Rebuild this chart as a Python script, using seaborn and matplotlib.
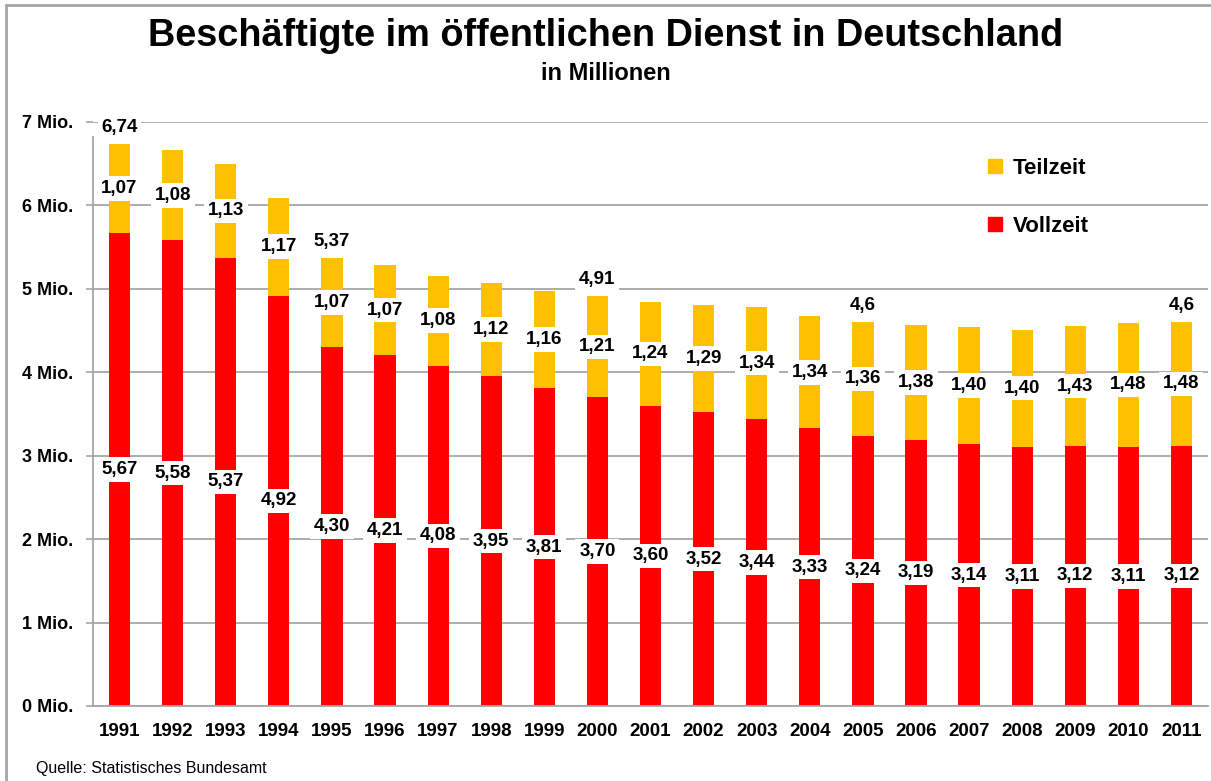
import matplotlib
matplotlib.use("Agg")
import matplotlib.pyplot as plt
import seaborn as sns
import numpy as np
from matplotlib.lines import Line2D

# Daten (Mio. Beschäftigte)
years = [str(y) for y in range(1991, 2012)]
vollzeit = [5.67, 5.58, 5.37, 4.92, 4.30, 4.21, 4.08, 3.95, 3.81, 3.70, 3.60,
            3.52, 3.44, 3.33, 3.24, 3.19, 3.14, 3.11, 3.12, 3.11, 3.12]
teilzeit = [1.07, 1.08, 1.13, 1.17, 1.07, 1.07, 1.08, 1.12, 1.16, 1.21, 1.24,
            1.29, 1.34, 1.34, 1.36, 1.38, 1.40, 1.40, 1.43, 1.48, 1.48]
# Summenbeschriftung nur bei einzelnen Jahren
total_label_years = ["1991", "1995", "2000", "2005", "2011"]
total_label_text = ["6,74", "5,37", "4,91", "4,6", "4,6"]
y_ticks = [0, 1, 2, 3, 4, 5, 6, 7]
y_ticklabels = [f"{t} Mio." for t in y_ticks]

RED = "#FF0000"
YELLOW = "#FFC000"
GRID = "#a6a6a6"

sns.set_style("white")
plt.rcParams["font.family"] = ["Liberation Sans", "DejaVu Sans"]
plt.rcParams["text.color"] = "black"

totals = np.array(vollzeit) + np.array(teilzeit)

fig = plt.figure(figsize=(12.11, 7.81), dpi=100)
ax = fig.add_axes([93 / 1211, 1 - 706 / 781, (1208 - 93) / 1211, (706 - 122) / 781])

# gestapelt: erst Gesamthöhe (gelb), dann Vollzeit (rot) darüber
sns.barplot(x=years, y=totals, color=YELLOW, saturation=1, width=0.4,
            linewidth=0, ax=ax, zorder=2)
sns.barplot(x=years, y=vollzeit, color=RED, saturation=1, width=0.4,
            linewidth=0, ax=ax, zorder=2)

ax.set_ylim(0, 7)
ax.set_xlim(-0.5, len(years) - 0.5)
ax.set_yticks(y_ticks)
ax.set_yticklabels(y_ticklabels, fontsize=13, fontweight="bold")
ax.set_xticks(range(len(years)))
ax.set_xticklabels(years, fontsize=13.5, fontweight="bold")
ax.set_xticks(np.arange(-0.5, len(years)), minor=True)
ax.tick_params(axis="x", which="major", length=0, pad=12, labelcolor="black")
ax.tick_params(axis="x", which="minor", length=5, width=1.2, color=GRID, direction="out")
ax.tick_params(axis="y", length=5, width=1.2, color=GRID, direction="out", pad=9,
               left=True, labelcolor="black")
ax.set_xlabel("")
ax.set_ylabel("")

ax.yaxis.grid(True, color=GRID, linewidth=1.3)
ax.set_axisbelow(True)
for s in ["top", "right"]:
    ax.spines[s].set_visible(False)
for s in ["left", "bottom"]:
    ax.spines[s].set_color(GRID)
    ax.spines[s].set_linewidth(1.3)
ax.spines["left"].set_bounds(0, 6.82)

box = dict(boxstyle="square,pad=0.2", fc="white", ec="none")
for i in range(len(years)):
    v, t = vollzeit[i], teilzeit[i]
    ax.text(i, v / 2, f"{v:.2f}".replace(".", ","), ha="center", va="center",
            fontsize=13.5, fontweight="bold", bbox=box, zorder=5)
    ax.text(i, v + t / 2, f"{t:.2f}".replace(".", ","), ha="center", va="center",
            fontsize=13.5, fontweight="bold", bbox=box, zorder=5)

for yr, txt in zip(total_label_years, total_label_text):
    i = years.index(yr)
    ax.annotate(txt, (i, totals[i]), xytext=(0, 12), textcoords="offset points",
                ha="center", va="center", fontsize=13.5, fontweight="bold",
                bbox=box, zorder=5)

handles = [Line2D([], [], marker="s", color=YELLOW, linestyle="", markersize=9.5),
           Line2D([], [], marker="s", color=RED, linestyle="", markersize=9.5)]
fig.legend(handles, ["Teilzeit", "Vollzeit"], loc="upper left",
           bbox_to_anchor=(984 / 1211, 1 - 158 / 781), frameon=False,
           prop=dict(size=16, weight="bold"), handlelength=1.0,
           handletextpad=0.3, labelspacing=1.65, borderpad=0, borderaxespad=0,
           labelcolor="black")

fig.text(0.5, 1 - 36 / 781, "Beschäftigte im öffentlichen Dienst in Deutschland",
         ha="center", va="center", fontsize=27.3, fontweight="bold")
fig.text(0.5, 1 - 73 / 781, "in Millionen", ha="center", va="center",
         fontsize=17, fontweight="bold")
fig.text(36 / 1211, 1 - 768 / 781, "Quelle: Statistisches Bundesamt",
         ha="left", va="center", fontsize=11.5)

# grauer Rahmen oben und links
fig.add_artist(Line2D([6 / 1211, 6 / 1211], [0, 1 - 5 / 781], color="#a6a6a6", lw=2))
fig.add_artist(Line2D([6 / 1211, 1], [1 - 5 / 781, 1 - 5 / 781], color="#a6a6a6", lw=2))

fig.savefig("out.png", dpi=100)
